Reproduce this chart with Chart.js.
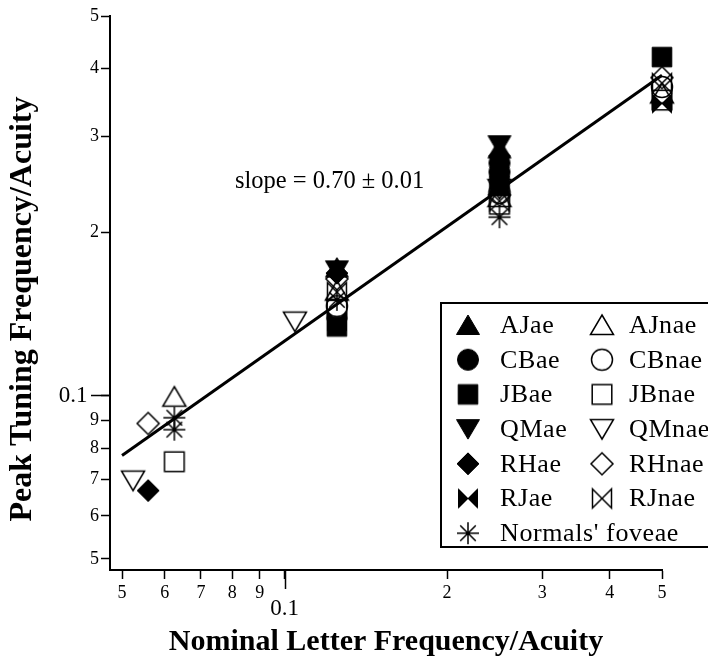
<!DOCTYPE html>
<html><head><meta charset="utf-8">
<script src="https://cdn.jsdelivr.net/npm/chart.js@4"></script>
<style>html,body{margin:0;padding:0;background:#fff}canvas{display:block}</style>
</head><body>
<canvas id="c" width="708" height="660"></canvas>
<script>
// ---- tick values ----
const xTickValues = [0.05, 0.06, 0.07, 0.08, 0.09, 0.1, 0.2, 0.3, 0.4, 0.5];
const yTickValues = [0.05, 0.06, 0.07, 0.08, 0.09, 0.1, 0.2, 0.3, 0.4, 0.5];

// ---- series (x = nominal letter frequency/acuity, y = peak tuning frequency/acuity) ----
const AJae_x  = [0.125, 0.25];          const AJae_y  = [0.172, 0.285];
const CBae_x  = [0.25, 0.25];           const CBae_y  = [0.268, 0.258];
const JBae_x  = [0.125, 0.25, 0.5];     const JBae_y  = [0.134, 0.243, 0.42];
const QMae_x  = [0.125, 0.25];          const QMae_y  = [0.170, 0.289];
const RHae_x  = [0.0559, 0.125, 0.25];  const RHae_y  = [0.0668, 0.168, 0.276];
const RJae_x  = [0.125, 0.25, 0.5];     const RJae_y  = [0.137, 0.250, 0.345];
const AJnae_x = [0.0625, 0.125, 0.25, 0.5];  const AJnae_y = [0.0995, 0.156, 0.232, 0.36];
const CBnae_x = [0.125, 0.25, 0.5];          const CBnae_y = [0.146, 0.236, 0.37];
const JBnae_x = [0.0625, 0.125, 0.25, 0.5];  const JBnae_y = [0.0755, 0.144, 0.225, 0.35];
const QMnae_x = [0.0524, 0.1045, 0.25];      const QMnae_y = [0.0697, 0.1368, 0.240];
const RHnae_x = [0.0559, 0.125, 0.25, 0.5];  const RHnae_y = [0.0888, 0.164, 0.234, 0.385];
const RJnae_x = [0.125, 0.25, 0.5];          const RJnae_y = [0.155, 0.228, 0.376];
const Normals_x = [0.0625, 0.0625, 0.125, 0.25];  const Normals_y = [0.091, 0.0865, 0.150, 0.213];

// ---- fitted line (slope 0.70) ----
const fit_x = [0.05, 0.5];
const fit_y = [0.0775, 0.389];
const slopeText = 'slope = 0.70 \u00B1 0.01';

const xTitle = 'Nominal Letter Frequency/Acuity';
const yTitle = 'Peak Tuning Frequency/Acuity';

function makeMarker(shape, filled) {
  const c = document.createElement('canvas');
  c.width = 28; c.height = 28;
  const g = c.getContext('2d');
  g.translate(14, 14);
  g.fillStyle = '#000'; g.strokeStyle = '#000';
  g.lineWidth = 1.5; g.lineJoin = 'miter';
  g.beginPath();
  switch (shape) {
    case 'triUp': g.moveTo(0, -10); g.lineTo(11.5, 9.5); g.lineTo(-11.5, 9.5); g.closePath(); break;
    case 'triDown': g.moveTo(0, 10); g.lineTo(11.5, -9.5); g.lineTo(-11.5, -9.5); g.closePath(); break;
    case 'circle': g.arc(0, 0, 10.5, 0, Math.PI * 2); break;
    case 'square': g.rect(-9.8, -9.8, 19.6, 19.6); break;
    case 'diamond': g.moveTo(0, -11); g.lineTo(11, 0); g.lineTo(0, 11); g.lineTo(-11, 0); g.closePath(); break;
    case 'bowtie': g.moveTo(-9.5, -9.5); g.lineTo(9.5, 9.5); g.lineTo(9.5, -9.5); g.lineTo(-9.5, 9.5); g.closePath(); break;
    case 'asterisk':
      for (let k = 0; k < 4; k++) {
        const a = k * Math.PI / 4;
        g.moveTo(-11 * Math.cos(a), -11 * Math.sin(a));
        g.lineTo(11 * Math.cos(a), 11 * Math.sin(a));
      }
      break;
  }
  if (shape === 'asterisk') { g.stroke(); }
  else if (filled) { g.fill(); g.lineWidth = 1; g.stroke(); }
  else { g.stroke(); }
  return c;
}

const M = {
  AJae: makeMarker('triUp', true), CBae: makeMarker('circle', true), JBae: makeMarker('square', true),
  QMae: makeMarker('triDown', true), RHae: makeMarker('diamond', true), RJae: makeMarker('bowtie', true),
  AJnae: makeMarker('triUp', false), CBnae: makeMarker('circle', false), JBnae: makeMarker('square', false),
  QMnae: makeMarker('triDown', false), RHnae: makeMarker('diamond', false), RJnae: makeMarker('bowtie', false),
  Normals: makeMarker('asterisk', false)
};

function pts(xs, ys) { return xs.map((x, i) => ({x: x, y: ys[i]})); }
function ds(label, key, xs, ys) {
  return {type: 'scatter', label: label, data: pts(xs, ys), pointStyle: M[key], pointRadius: 10,
          showLine: false, clip: false};
}

const datasets = [
  {type: 'line', label: 'fit', data: pts(fit_x, fit_y), borderColor: '#000', borderWidth: 3,
   pointRadius: 0, fill: false, tension: 0, clip: false},
  ds('JBae', 'JBae', JBae_x, JBae_y),
  ds('RJae', 'RJae', RJae_x, RJae_y),
  ds('CBae', 'CBae', CBae_x, CBae_y),
  ds('RHae', 'RHae', RHae_x, RHae_y),
  ds('AJae', 'AJae', AJae_x, AJae_y),
  ds('QMae', 'QMae', QMae_x, QMae_y),
  ds("Normals' foveae", 'Normals', Normals_x, Normals_y),
  ds('AJnae', 'AJnae', AJnae_x, AJnae_y),
  ds('CBnae', 'CBnae', CBnae_x, CBnae_y),
  ds('JBnae', 'JBnae', JBnae_x, JBnae_y),
  ds('QMnae', 'QMnae', QMnae_x, QMnae_y),
  ds('RHnae', 'RHnae', RHnae_x, RHnae_y),
  ds('RJnae', 'RJnae', RJnae_x, RJnae_y)
];

const legendCol1 = [['AJae', 'AJae'], ['CBae', 'CBae'], ['JBae', 'JBae'], ['QMae', 'QMae'], ['RHae', 'RHae'], ['RJae', 'RJae'], ['Normals', "Normals' foveae"]];
const legendCol2 = [['AJnae', 'AJnae'], ['CBnae', 'CBnae'], ['JBnae', 'JBnae'], ['QMnae', 'QMnae'], ['RHnae', 'RHnae'], ['RJnae', 'RJnae']];

const SERIF = '"Liberation Serif", "Times New Roman", serif';

function xLabel(v) {
  if (Math.abs(v - 0.1) < 1e-9) return ['', '0.1'];
  if (v < 0.1) return String(Math.round(v * 100));
  return String(Math.round(v * 10));
}
function yLabel(v) {
  if (Math.abs(v - 0.1) < 1e-9) return '0.1  ';
  if (v < 0.1) return String(Math.round(v * 100));
  return String(Math.round(v * 10));
}
function tickFont(ctx) {
  const isMajor = ctx.tick && Math.abs(ctx.tick.value - 0.1) < 1e-9;
  return isMajor ? {family: SERIF, size: 23, lineHeight: 0.78} : {family: SERIF, size: 18, lineHeight: 1.2};
}

const bgPlugin = {
  id: 'bg',
  beforeDraw(chart) {
    const c = chart.ctx; c.save(); c.fillStyle = '#fff'; c.fillRect(0, 0, chart.width, chart.height); c.restore();
  }
};

const extrasPlugin = {
  id: 'extras',
  afterDraw(chart) {
    const c = chart.ctx, xs = chart.scales.x, ys = chart.scales.y, a = chart.chartArea;
    c.save();
    // longer ticks at 0.1
    c.strokeStyle = '#000'; c.lineWidth = 1.5;
    const px = Math.round(xs.getPixelForValue(0.1)) + 0.5;
    c.beginPath(); c.moveTo(px, a.bottom); c.lineTo(px, a.bottom + 19); c.stroke();
    const py = Math.round(ys.getPixelForValue(0.1)) + 0.5;
    c.beginPath(); c.moveTo(a.left, py); c.lineTo(a.left - 19, py); c.stroke();
    // slope annotation
    c.fillStyle = '#000';
    c.font = '24.5px ' + SERIF;
    c.textBaseline = 'middle'; c.textAlign = 'left';
    c.fillText(slopeText, 235, 182);
    // legend
    const bx = 441, by = 303, bh = 244;
    c.fillStyle = '#fff'; c.fillRect(bx, by, 300, bh);
    c.lineWidth = 2; c.strokeStyle = '#000';
    c.strokeRect(bx, by, 300, bh);
    c.fillStyle = '#000';
    c.font = '26px ' + SERIF;
    if ('letterSpacing' in c) c.letterSpacing = '0.6px';
    const rowY = i => 325 + i * 34.7;
    legendCol1.forEach((it, i) => {
      const m = M[it[0]];
      c.drawImage(m, 468 - m.width / 2, rowY(i) - m.height / 2);
      c.fillText(it[1], 500, rowY(i) + 1);
    });
    legendCol2.forEach((it, i) => {
      const m = M[it[0]];
      c.drawImage(m, 602 - m.width / 2, rowY(i) - m.height / 2);
      c.fillText(it[1], 629, rowY(i) + 1);
    });
    c.restore();
  }
};

new Chart(document.getElementById('c'), {
  data: {datasets: datasets},
  options: {
    responsive: false,
    animation: false,
    devicePixelRatio: 1,
    layout: {padding: {left: 0, right: 46, top: 16, bottom: 0}},
    plugins: {legend: {display: false}, tooltip: {enabled: false}},
    scales: {
      x: {
        type: 'logarithmic', position: 'bottom', min: 0.0475, max: 0.5, bounds: 'data',
        afterBuildTicks: s => { s.ticks = xTickValues.map(v => ({value: v})); },
        afterFit: s => { s.height = 90; },
        ticks: {callback: v => xLabel(v), font: tickFont, color: '#000', padding: 3,
                autoSkip: false, maxRotation: 0, minRotation: 0},
        grid: {drawOnChartArea: false, drawTicks: true, tickLength: 9, tickColor: '#000', tickWidth: 1.5},
        border: {display: true, color: '#000', width: 2},
        title: {display: true, text: xTitle, color: '#000',
                font: {family: SERIF, size: 30, weight: 'bold', lineHeight: 1.2}, padding: {top: 0, bottom: 0}}
      },
      y: {
        type: 'logarithmic', position: 'left', min: 0.0477, max: 0.5, bounds: 'data',
        afterBuildTicks: s => { s.ticks = yTickValues.map(v => ({value: v})); },
        afterFit: s => { s.width = 110; },
        ticks: {callback: v => yLabel(v), font: tickFont, color: '#000', padding: 2, autoSkip: false},
        grid: {drawOnChartArea: false, drawTicks: true, tickLength: 9, tickColor: '#000', tickWidth: 1.5},
        border: {display: true, color: '#000', width: 2},
        title: {display: true, text: yTitle + '    ', color: '#000',
                font: {family: SERIF, size: 32, weight: 'bold', lineHeight: 1.2}, padding: {top: 4, bottom: 0}}
      }
    }
  },
  plugins: [bgPlugin, extrasPlugin]
});
</script>
</body></html>
